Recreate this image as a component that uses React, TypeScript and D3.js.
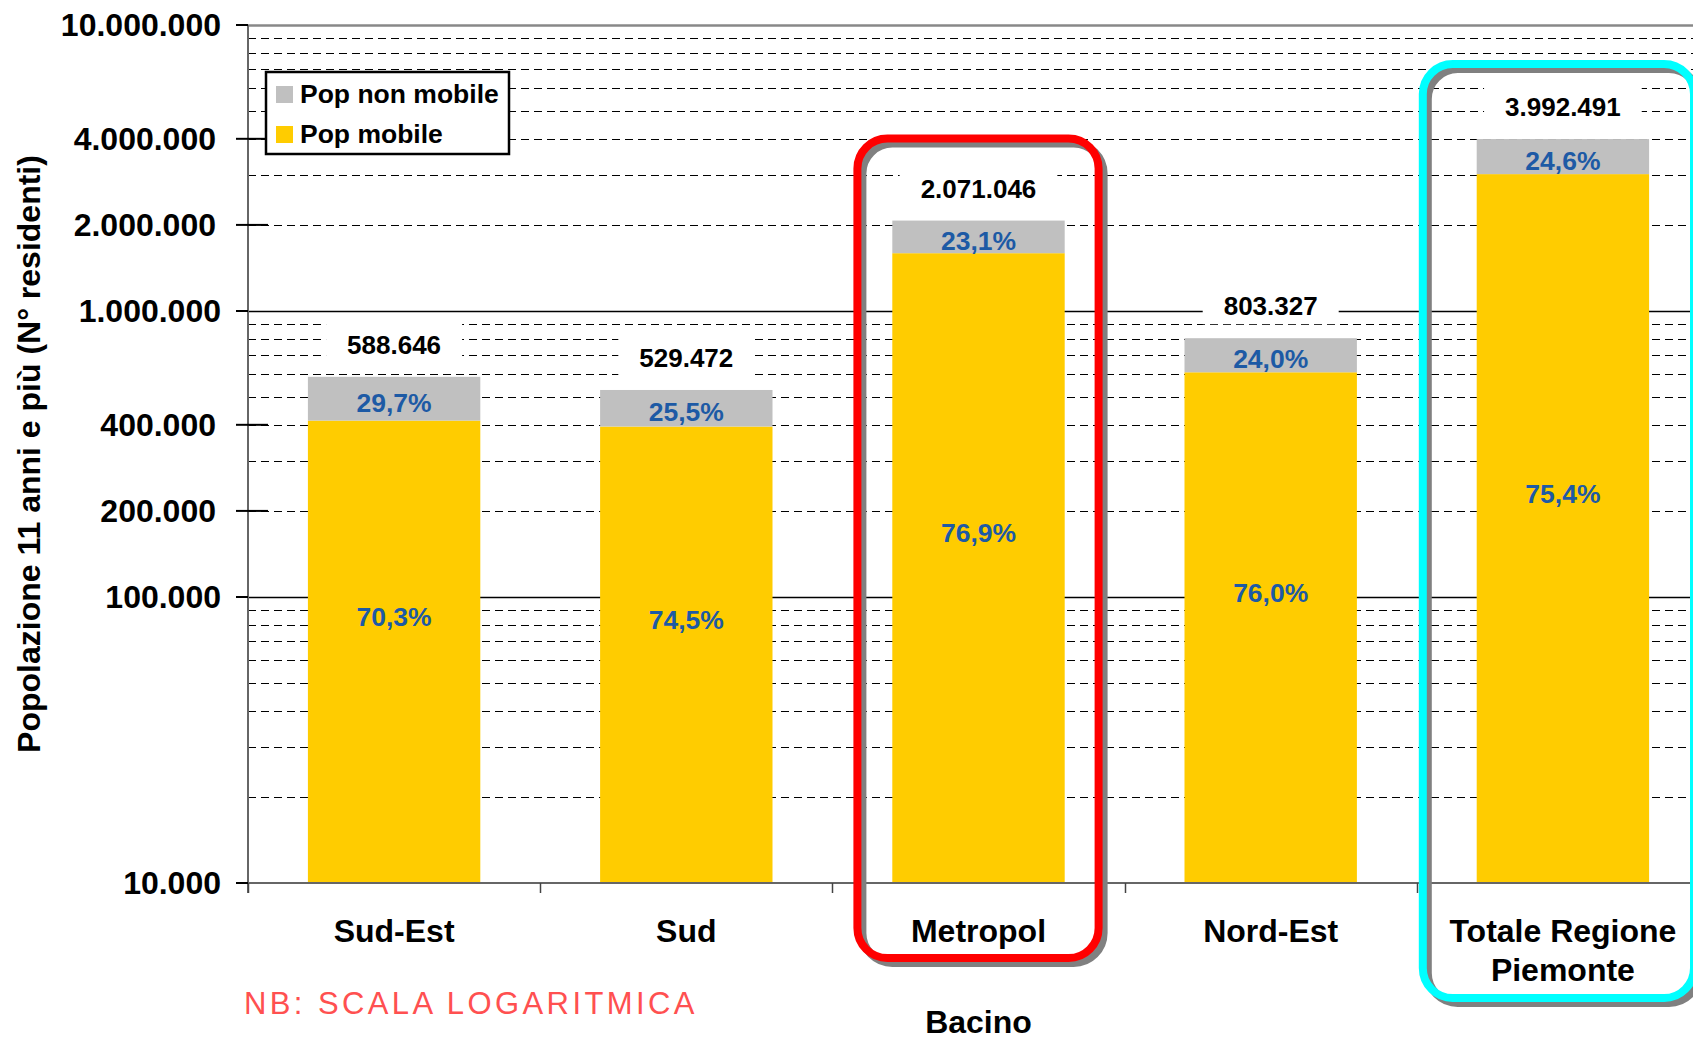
import { useEffect, useRef } from 'react';
import * as d3 from 'd3';

// data
const categories = ['Sud-Est', 'Sud', 'Metropol', 'Nord-Est', 'Totale Regione Piemonte'];
const categoryLines = [['Sud-Est'], ['Sud'], ['Metropol'], ['Nord-Est'], ['Totale Regione', 'Piemonte']];
const totals = [588646, 529472, 2071046, 803327, 3992491];
const shareMobile = [70.3, 74.5, 76.9, 76.0, 75.4];
const shareNonMobile = [29.7, 25.5, 23.1, 24.0, 24.6];
const seriesNames = ['Pop non mobile', 'Pop mobile'];
const yTickValues = [10000, 100000, 1000000, 10000000, 200000, 400000, 2000000, 4000000];
const highlighted = [
  { category: 'Metropol', color: '#ff0000' },
  { category: 'Totale Regione Piemonte', color: '#00ffff' },
];

const W = 1693;
const H = 1040;
const FONT = "'Liberation Sans', Arial, Helvetica, sans-serif";
const YELLOW = '#ffcc00';
const GREY = '#c0c0c0';
const BLUE = '#1d5aa5';

const App = () => {
  const ref = useRef<SVGSVGElement>(null);

  useEffect(() => {
    document.body.style.margin = '0';
    const svg = d3.select(ref.current);
    svg.selectAll('*').remove();
    svg.attr('width', W).attr('height', H).style('font-family', FONT);

    const x = d3.scaleBand<string>().domain(categories)
      .range([248, 1709]).paddingInner(0.41).paddingOuter(0.205);
    const y = d3.scaleLog().domain([1e4, 1e7]).range([883, 25]);
    const step = x.step();
    const left = 248;
    const bottom = y(1e4);
    const top = y(1e7);

    const it = d3.formatLocale({ decimal: ',', thousands: '.', grouping: [3], currency: ['', ' €'] });
    const fmtInt = it.format(',d');
    const fmtPct = it.format('.1f');
    const crisp = (v: number) => Math.round(v) + 0.5;

    const rows = categories.map((c, i) => ({
      c,
      total: totals[i],
      mobile: totals[i] * shareMobile[i] / 100,
      pm: shareMobile[i],
      pn: shareNonMobile[i],
    }));

    // grid
    const minor: number[] = [];
    [1e4, 1e5, 1e6].forEach((d) => { for (let m = 2; m <= 9; m++) minor.push(d * m); });
    const grid = svg.append('g');
    grid.selectAll('line.minor').data(minor).join('line')
      .attr('x1', left).attr('x2', W)
      .attr('y1', (d) => crisp(y(d))).attr('y2', (d) => crisp(y(d)))
      .attr('stroke', '#000').attr('stroke-width', 1).attr('stroke-dasharray', '8,5');
    grid.selectAll('line.major').data([1e5, 1e6]).join('line')
      .attr('x1', left).attr('x2', W)
      .attr('y1', (d) => crisp(y(d))).attr('y2', (d) => crisp(y(d)))
      .attr('stroke', '#000').attr('stroke-width', 1.5);

    // bars
    const bars = svg.append('g');
    bars.selectAll('rect.mob').data(rows).join('rect')
      .attr('x', (d) => x(d.c)!).attr('width', x.bandwidth())
      .attr('y', (d) => y(d.mobile)).attr('height', (d) => bottom - y(d.mobile))
      .attr('fill', YELLOW);
    bars.selectAll('rect.non').data(rows).join('rect')
      .attr('x', (d) => x(d.c)!).attr('width', x.bandwidth())
      .attr('y', (d) => y(d.total)).attr('height', (d) => y(d.mobile) - y(d.total))
      .attr('fill', GREY);

    // total labels on white boxes
    const tot = svg.append('g');
    rows.forEach((d) => {
      const cx = x(d.c)! + x.bandwidth() / 2;
      const base = y(d.total) - 23;
      const bg = tot.append('rect').attr('fill', '#fff');
      const t = tot.append('text')
        .attr('x', cx).attr('y', base)
        .attr('text-anchor', 'middle').attr('font-size', 26).attr('font-weight', 'bold')
        .attr('fill', '#000').text(fmtInt(d.total));
      const w = (t.node() as SVGTextElement).getComputedTextLength();
      bg.attr('x', cx - w / 2 - 21).attr('width', w + 42)
        .attr('y', base - 30).attr('height', 39);
    });

    // percentage labels
    const pct = svg.append('g').attr('font-size', 26.5).attr('font-weight', 'bold')
      .attr('fill', BLUE).attr('text-anchor', 'middle');
    pct.selectAll('text.non').data(rows).join('text')
      .attr('x', (d) => x(d.c)! + x.bandwidth() / 2)
      .attr('y', (d) => (y(d.total) + y(d.mobile)) / 2 + 13)
      .text((d) => fmtPct(d.pn) + '%');
    pct.selectAll('text.mob').data(rows).join('text')
      .attr('x', (d) => x(d.c)! + x.bandwidth() / 2)
      .attr('y', (d) => (y(d.mobile) + bottom) / 2 - 26)
      .text((d) => fmtPct(d.pm) + '%');

    // axes
    const ax = svg.append('g');
    ax.append('line').attr('x1', left).attr('x2', W).attr('y1', crisp(top)).attr('y2', crisp(top))
      .attr('stroke', '#888').attr('stroke-width', 2.5);
    ax.append('line').attr('x1', left).attr('x2', W).attr('y1', bottom).attr('y2', bottom)
      .attr('stroke', '#666').attr('stroke-width', 2);
    ax.append('line').attr('x1', left).attr('x2', left).attr('y1', top).attr('y2', bottom + 10)
      .attr('stroke', '#666').attr('stroke-width', 2);
    ax.selectAll('line.ctick').data(d3.range(categories.length + 1)).join('line')
      .attr('x1', (i) => crisp(left + i * step)).attr('x2', (i) => crisp(left + i * step))
      .attr('y1', bottom).attr('y2', bottom + 10)
      .attr('stroke', '#444').attr('stroke-width', 1.5);

    const isDecade = (v: number) => Math.abs(Math.log10(v) - Math.round(Math.log10(v))) < 1e-9;
    ax.selectAll('line.ytick').data(yTickValues).join('line')
      .attr('x1', 236).attr('x2', (d) => (isDecade(d) ? left : 268))
      .attr('y1', (d) => y(d)).attr('y2', (d) => y(d))
      .attr('stroke', '#000').attr('stroke-width', 2);
    ax.selectAll('text.ylab').data(yTickValues).join('text')
      .attr('x', (d) => (isDecade(d) ? 221 : 216))
      .attr('y', (d) => y(d) + 11)
      .attr('text-anchor', 'end').attr('font-size', 32).attr('font-weight', 'bold')
      .attr('fill', '#000').text((d) => fmtInt(d));

    // category labels
    const cl = svg.append('g').attr('font-size', 32).attr('font-weight', 'bold')
      .attr('text-anchor', 'middle').attr('fill', '#000');
    categories.forEach((c, i) => {
      categoryLines[i].forEach((line, j) => {
        cl.append('text').attr('x', x(c)! + x.bandwidth() / 2).attr('y', 942 + j * 39).text(line);
      });
    });

    // titles
    svg.append('text')
      .attr('transform', `translate(29,${(top + bottom) / 2}) rotate(-90)`)
      .attr('text-anchor', 'middle').attr('dominant-baseline', 'central')
      .attr('font-size', 32).attr('font-weight', 'bold').attr('fill', '#000')
      .text('Popolazione 11 anni e più (N° residenti)');
    svg.append('text')
      .attr('x', (248 + 1709) / 2).attr('y', 1033)
      .attr('text-anchor', 'middle').attr('font-size', 32).attr('font-weight', 'bold')
      .attr('fill', '#000').text('Bacino');
    svg.append('text')
      .attr('x', 244).attr('y', 1014)
      .attr('font-size', 31).attr('letter-spacing', 3.4).attr('fill', '#ff5050')
      .text('NB: SCALA LOGARITMICA');

    // legend
    const lg = svg.append('g').attr('transform', 'translate(266,72)');
    lg.append('rect').attr('width', 243).attr('height', 82)
      .attr('fill', '#fff').attr('stroke', '#000').attr('stroke-width', 2.5);
    seriesNames.forEach((name, i) => {
      lg.append('rect').attr('x', 10).attr('y', 14 + i * 40).attr('width', 17).attr('height', 17)
        .attr('fill', i === 0 ? GREY : YELLOW);
      lg.append('text').attr('x', 34).attr('y', 31 + i * 40)
        .attr('font-size', 26.5).attr('font-weight', 'bold').attr('fill', '#000').text(name);
    });

    // highlight boxes
    const hb = svg.append('g').attr('fill', 'none');
    highlighted.forEach((h) => {
      const i = categories.indexOf(h.category);
      const x0 = x(h.category)! - x.bandwidth() * 0.41 / (1 - 0.41) / 2;
      const wide = categoryLines[i].length > 1;
      const bx0 = x0 + (wide ? 6 : 25);
      const bx1 = x0 + step - (wide ? 15 : 26);
      const by0 = y(totals[i]) - (wide ? 75 : 82);
      const by1 = bottom + 35 + categoryLines[i].length * 40;
      hb.append('rect').attr('x', bx0 + 5).attr('y', by0 + 5)
        .attr('width', bx1 - bx0).attr('height', by1 - by0).attr('rx', 30)
        .attr('stroke', '#808080').attr('stroke-width', 8);
      hb.append('rect').attr('x', bx0).attr('y', by0)
        .attr('width', bx1 - bx0).attr('height', by1 - by0).attr('rx', 30)
        .attr('stroke', h.color).attr('stroke-width', 8);
    });
  }, []);

  return <svg ref={ref} style={{ display: 'block' }}></svg>;
};

export default App;
